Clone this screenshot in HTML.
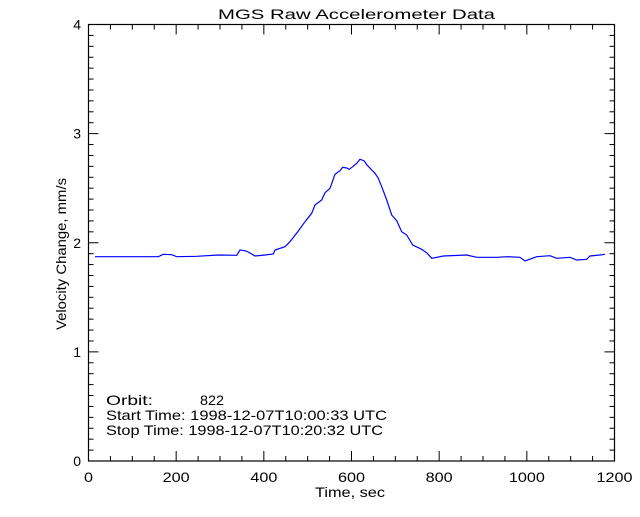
<!DOCTYPE html>
<html><head><style>
body{margin:0;background:#fff;}
svg text{font-family:"Liberation Sans",sans-serif;font-size:14px;fill:#000;}
</style></head><body>
<svg width="640" height="512" xmlns="http://www.w3.org/2000/svg">
<rect width="640" height="512" fill="#fff"/>
<g id="ax" stroke="#000" stroke-width="1.2" fill="none">
<rect x="88.5" y="24.5" width="526" height="436.5"/>
</g>
<g id="ticks" stroke="#000" stroke-width="1"></g>
<g id="lbl"></g>
<text x="218" y="19" font-size="15" textLength="277" lengthAdjust="spacingAndGlyphs">MGS Raw Accelerometer Data</text>
<text x="315" y="497" textLength="70" lengthAdjust="spacingAndGlyphs">Time, sec</text>
<text transform="translate(66,330) rotate(-90)" textLength="152" lengthAdjust="spacingAndGlyphs">Velocity Change, mm/s</text>
<text x="106" y="405" textLength="47" lengthAdjust="spacingAndGlyphs">Orbit:</text>
<text x="200" y="405" textLength="24" lengthAdjust="spacingAndGlyphs">822</text>
<text x="106" y="420" textLength="281" lengthAdjust="spacingAndGlyphs">Start Time: 1998-12-07T10:00:33 UTC</text>
<text x="106" y="435" textLength="277" lengthAdjust="spacingAndGlyphs">Stop Time: 1998-12-07T10:20:32 UTC</text>
<polyline fill="none" stroke="#0000ff" stroke-width="1.2" points="95,256.7 158.3,256.7 163.3,254.3 171.7,254.7 176.7,256.7 196.7,256.3 218.3,255 236.7,255.3 240,250 245,250.7 248.3,252 255,256 265,255 273.3,254 275,250 285,246.7 290,241.7 298.3,231 305,221.7 311.7,213.3 315,205 321.7,200 325,192.7 330,188.3 335,174.3 340,170.7 342.7,167.3 346.7,168 349.3,169.3 352.7,166.7 356.7,163.3 360,159.3 364,160.7 366.7,164.7 371.7,170 375,173.3 378.3,178.3 381.7,186.7 386.7,200 391.7,215 396.7,220.7 401.7,231.7 406.7,235 412.7,245 421.7,249.3 427.3,253.3 431.7,258.3 443.3,256 466.7,255 476.7,257.3 496.7,257.3 506.7,256.7 520,257.3 525,261 536.7,256.7 550,255.7 556.7,258.3 570,257.3 576.7,260 586.7,259.3 590,256 600,255 605,254.3"/>
<script>
var t=document.getElementById('ticks'),l=document.getElementById('lbl'),ns="http://www.w3.org/2000/svg";
function ln(a,b,c,d){var e=document.createElementNS(ns,'line');e.setAttribute('x1',a);e.setAttribute('y1',b);e.setAttribute('x2',c);e.setAttribute('y2',d);t.appendChild(e);}
function tx(x,y,s,an,w){var e=document.createElementNS(ns,'text');e.setAttribute('x',x);e.setAttribute('y',y);e.setAttribute('text-anchor',an);e.setAttribute('font-size','15');if(w){e.setAttribute('textLength',w);e.setAttribute('lengthAdjust','spacingAndGlyphs');}e.textContent=s;l.appendChild(e);}
var L=88.5,R=614.5,T=24.5,B=461;
for(var v=0;v<=1200;v+=50){var x=L+v*(R-L)/1200;var len=v%200==0?10:5;ln(x,B,x,B-len);ln(x,T,x,T+len);if(v%200==0){var s=String(v);var w=s.length*9;tx(x-w/2,482,s,'start',w);}}
for(var i=0;i<=40;i++){var y=B-i*(B-T)/40;var len=i%10==0?10:5;ln(L,y,L+len,y);ln(R,y,R-len,y);if(i%10==0)tx(81,y+5,i/10,'end');}
</script>
</svg>
</body></html>
